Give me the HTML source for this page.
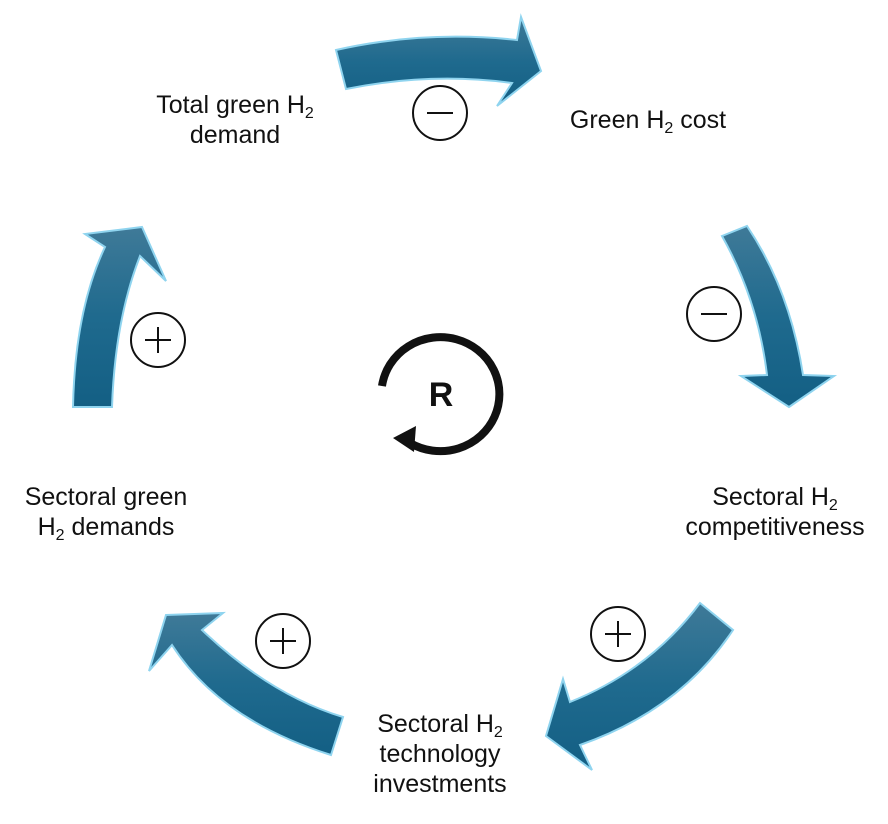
<!DOCTYPE html>
<html><head><meta charset="utf-8"><style>
html,body{margin:0;padding:0;background:#fff;}
.t{position:absolute;font-family:"Liberation Sans",sans-serif;font-size:25px;color:#111;text-align:center;line-height:30px;white-space:nowrap;}
sub{font-size:16px;vertical-align:-5px;line-height:0;}
</style></head><body>
<div style="position:relative;width:888px;height:824px;overflow:hidden;">
<svg width="888" height="824" style="position:absolute;left:0;top:0">
<defs>
<linearGradient id="g" x1="0" y1="0" x2="0" y2="1">
<stop offset="0" stop-color="#3f7a98"/><stop offset="0.5" stop-color="#1f6a8e"/><stop offset="1" stop-color="#135f84"/>
</linearGradient>
</defs>
<g fill="url(#g)" stroke="#8fd4ef" stroke-width="2" stroke-linejoin="miter">
<path d="M336,50 Q425,30 517,40 L521,17 L541,71 L497,106 L512,83 Q430,72 346,89 Z"/>
<path d="M722,236 L747,226 Q790,290 803,375 L834,376 L789,407 L741,376 L767,375 Q758,300 722,236 Z"/>
<path d="M700,603 L733,630 Q680,710 580,745 L592,770 L546,736 L563,679 L570,702 Q650,670 700,603 Z"/>
<path d="M166,615 L223,613 L202,630 Q270,695 343,717 L331,755 Q220,720 172,645 L149,671 Z"/>
<path d="M142,227 L166,281 L140,256 Q115,320 112,407 L73,407 Q75,310 105,247 L85,234 Z"/>
</g>
<g fill="none" stroke="#111" stroke-width="2">
<circle cx="440" cy="113" r="27"/><line x1="427" y1="113" x2="453" y2="113"/>
<circle cx="714" cy="314" r="27"/><line x1="701" y1="314" x2="727" y2="314"/>
<circle cx="618" cy="634" r="27"/><line x1="605" y1="634" x2="631" y2="634"/><line x1="618" y1="621" x2="618" y2="647"/>
<circle cx="283" cy="641" r="27"/><line x1="270" y1="641" x2="296" y2="641"/><line x1="283" y1="628" x2="283" y2="654"/>
<circle cx="158" cy="340" r="27"/><line x1="145" y1="340" x2="171" y2="340"/><line x1="158" y1="327" x2="158" y2="353"/>
</g>
<path d="M382,386 A59,57 0 1 1 410,443" fill="none" stroke="#111" stroke-width="8"/>
<polygon points="393,438 416,426 414,452" fill="#111"/>
<text x="441" y="406" font-family="Liberation Sans,sans-serif" font-size="34" font-weight="bold" text-anchor="middle" fill="#111">R</text>
</svg>
<div class="t" style="left:135px;top:90px;width:200px;">Total green H<sub>2</sub><br>demand</div>
<div class="t" style="left:548px;top:105px;width:200px;">Green H<sub>2</sub> cost</div>
<div class="t" style="left:665px;top:482px;width:220px;">Sectoral H<sub>2</sub><br>competitiveness</div>
<div class="t" style="left:340px;top:709px;width:200px;">Sectoral H<sub>2</sub><br>technology<br>investments</div>
<div class="t" style="left:6px;top:482px;width:200px;">Sectoral green<br>H<sub>2</sub> demands</div>
</div>
</body></html>
